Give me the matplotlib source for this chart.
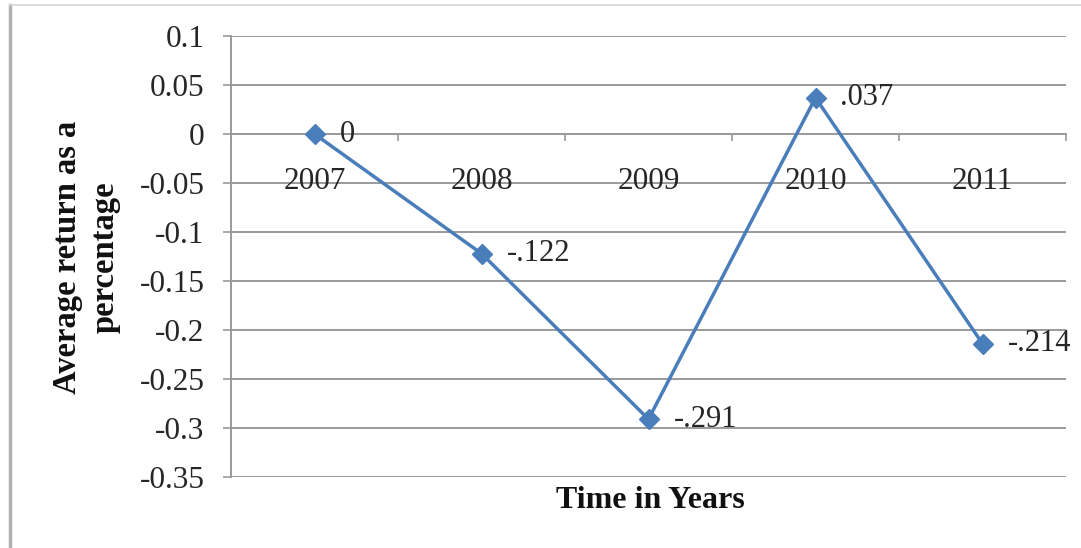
import matplotlib
matplotlib.use("Agg")
import matplotlib.pyplot as plt
from matplotlib.lines import Line2D

years = ["2007", "2008", "2009", "2010", "2011"]
values = [0.0, -0.122, -0.291, 0.037, -0.214]
value_labels = ["0", "-.122", "-.291", ".037", "-.214"]
y_ticks = [0.1, 0.05, 0, -0.05, -0.1, -0.15, -0.2, -0.25, -0.3, -0.35]
y_tick_labels = ["0.1", "0.05", "0", "-0.05", "-0.1", "-0.15", "-0.2", "-0.25", "-0.3", "-0.35"]

plt.rcParams['font.family'] = ['Liberation Serif', 'DejaVu Serif']

W, H = 1081, 548
fig = plt.figure(figsize=(W / 100, H / 100), dpi=100)
ax = fig.add_axes([231 / W, 1 - 477 / H, (1066 - 231) / W, (477 - 36) / H])

grid_col = "#9a9a9a"
text_col = "#262626"
x = list(range(len(years)))
ax.set_xlim(-0.5, len(years) - 0.5)
ax.set_ylim(-0.35, 0.1)

for yt in y_ticks:
    ax.axhline(yt, color=grid_col, lw=1.4, zorder=1)

ax.plot(x, values, color="#4A7EBB", lw=2.5, marker="D", markersize=10,
        markerfacecolor="#4A7EBB", markeredgecolor="#4A7EBB", zorder=3)

for xi, v, lab in zip(x, values, value_labels):
    ax.annotate(lab, (xi, v), xytext=(18, 0), textcoords="offset points",
                ha="left", va="center", fontsize=22, color=text_col, zorder=4)

for s in ["top", "right"]:
    ax.spines[s].set_visible(False)
ax.spines["left"].set_color(grid_col)
ax.spines["left"].set_linewidth(1.4)
ax.spines["bottom"].set_position(("data", 0))
ax.spines["bottom"].set_color(grid_col)
ax.spines["bottom"].set_linewidth(1.4)

ax.set_yticks(y_ticks)
ax.set_yticklabels(y_tick_labels, fontsize=22.5, color=text_col)
ax.tick_params(axis="y", length=6, width=1.2, color=grid_col, pad=13)

ax.set_xticks(x)
ax.set_xticklabels(years, fontsize=22.5, color=text_col)
ax.set_xticks([i - 0.5 for i in range(len(years) + 1)], minor=True)
ax.tick_params(axis="x", which="major", length=0, pad=24)
ax.tick_params(axis="x", which="minor", length=5, width=1.2, color=grid_col, direction="out")

fig.text(650 / W, 1 - 500 / H, "Time in Years", ha="center", va="center",
         fontsize=23, fontweight="bold", color="#111111")
fig.text(86 / W, 1 - 257 / H, "Average return as a\npercentage", ha="center", va="center",
         rotation=90, fontsize=23.5, fontweight="bold", color="#111111", linespacing=1.28)

fig.add_artist(Line2D([9.5 / W, 9.5 / W], [0, 1 - 5 / H], transform=fig.transFigure,
                      color="#b0b0b0", lw=2.5))
fig.add_artist(Line2D([9.5 / W, 1], [1 - 5 / H, 1 - 5 / H], transform=fig.transFigure,
                      color="#d5d5d5", lw=1.2))

fig.savefig("out.png", dpi=100)
